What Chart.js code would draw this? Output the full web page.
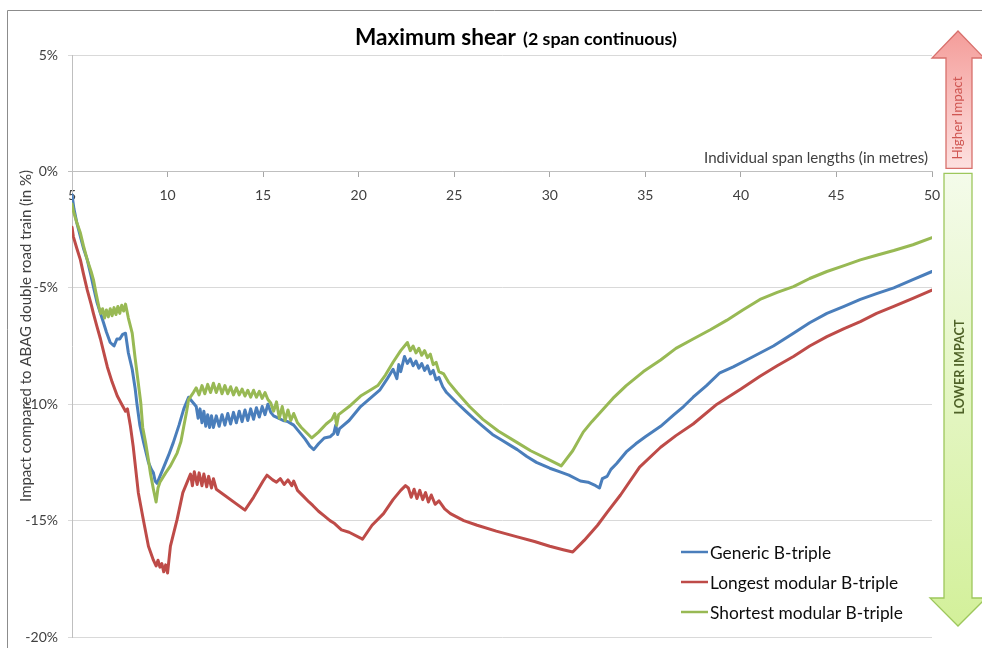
<!DOCTYPE html>
<html>
<head>
<meta charset="utf-8">
<script src="https://cdn.jsdelivr.net/npm/chart.js@4.4.0/dist/chart.umd.min.js"></script>
<style>
  html, body { margin: 0; padding: 0; background: #fff; overflow: hidden; }
  canvas { display: block; }
</style>
</head>
<body>
<canvas id="chart" width="982" height="648"></canvas>
<script>
// Span length (m) and impact (%) for each B-triple configuration
const genericX = [5.0,5.1,5.25,5.44,5.6,5.8,6.0,6.12,6.3,6.49,6.65,6.8,7.0,7.2,7.35,7.5,7.65,7.8,7.95,8.15,8.3,8.4,8.55,8.75,9.0,9.15,9.26,9.35,9.45,9.6,9.8,10.05,10.3,10.6,10.85,11.1,11.35,
  11.5,11.6,11.7,11.8,11.9,12.0,12.1,12.2,12.3,12.4,12.55,12.7,12.85,13.0,13.15,13.3,13.45,13.6,13.75,13.9,14.05,14.2,14.35,14.5,14.65,14.8,14.95,15.1,15.25,15.4,15.55,
  15.8,16.05,16.3,16.6,16.9,17.2,17.45,17.65,17.9,18.2,18.5,18.7,18.8,18.9,19.0,19.5,20.1,20.6,21.1,21.5,21.8,22.0,22.1,22.2,
  22.4,22.55,22.7,22.85,23.0,23.15,23.3,23.45,23.6,23.75,23.9,24.05,24.2,24.4,24.6,
  25.15,25.6,26.0,26.5,27.0,27.5,28.0,28.3,28.8,29.3,30.0,30.5,31.0,31.6,32.0,32.4,32.6,32.75,33.0,33.2,33.5,34.0,34.5,35.0,35.8,36.5,37.0,37.5,38.2,38.9,39.6,40.3,41.0,41.7,42.75,43.6,44.5,45.4,46.25,47.1,48.0,49.0,50.0];
const genericY = [-1.0,-1.6,-2.2,-2.8,-3.3,-3.8,-4.5,-4.95,-5.6,-6.1,-6.5,-6.9,-7.35,-7.5,-7.2,-7.2,-7.0,-6.95,-7.8,-8.5,-9.3,-10.0,-10.9,-11.65,-12.5,-12.8,-12.95,-13.3,-13.4,-13.1,-12.7,-12.2,-11.65,-10.9,-10.2,-9.7,-9.95,
  -10.1,-10.6,-10.2,-10.8,-10.3,-10.95,-10.45,-11.0,-10.5,-11.0,-10.5,-10.95,-10.45,-10.9,-10.4,-10.85,-10.35,-10.8,-10.3,-10.75,-10.25,-10.7,-10.2,-10.65,-10.15,-10.55,-10.1,-10.45,-10.0,-10.35,-10.5,
  -10.6,-10.7,-10.75,-10.9,-11.2,-11.5,-11.8,-11.95,-11.7,-11.45,-11.4,-11.25,-10.9,-11.3,-11.05,-10.7,-10.1,-9.75,-9.4,-8.9,-8.5,-8.9,-8.3,-8.6,
  -7.95,-8.25,-8.05,-8.35,-8.15,-8.45,-8.25,-8.55,-8.35,-8.7,-8.55,-8.95,-8.85,-9.25,-9.5,
  -9.95,-10.3,-10.6,-10.95,-11.3,-11.55,-11.8,-11.95,-12.25,-12.5,-12.75,-12.9,-13.05,-13.3,-13.35,-13.5,-13.6,-13.2,-13.1,-12.8,-12.55,-12.05,-11.7,-11.4,-10.95,-10.45,-10.1,-9.7,-9.2,-8.65,-8.4,-8.1,-7.8,-7.5,-6.95,-6.5,-6.1,-5.8,-5.5,-5.25,-5.0,-4.65,-4.3];

const longestX = [5.0,5.07,5.25,5.44,5.6,5.8,6.0,6.12,6.3,6.49,
  6.7,6.85,7.1,7.37,7.6,7.8,7.9,8.05,8.2,8.47,
  8.73,9.0,9.26,9.4,9.5,9.6,9.7,9.8,9.9,10.0,
  10.15,10.5,10.8,11.0,11.2,11.3,11.4,11.55,11.65,11.8,
  11.9,12.05,12.15,12.3,12.4,12.55,14.05,14.5,15.0,15.2,
  15.5,15.7,15.9,16.1,16.3,16.5,16.6,16.8,17.1,17.4,
  17.6,17.9,18.2,18.5,18.7,18.9,19.1,19.5,20.1,20.2,
  20.7,21.3,21.8,22.2,22.45,22.6,22.75,22.9,23.05,23.2,
  23.35,23.5,23.65,23.8,24.0,24.2,24.5,24.8,25.5,26.2,
  27.2,28.3,29.2,30.0,30.7,31.2,31.8,32.5,33.0,33.7,
  34.7,35.8,36.6,37.5,38.75,40.0,41.0,41.9,42.75,43.6,
  44.5,45.4,46.25,47.1,48.0,49.0,50.0];
const longestY = [-2.4,-2.8,-3.3,-3.8,-4.4,-5.1,-5.7,-6.1,-6.65,-7.2,
  -7.9,-8.4,-9.05,-9.65,-10.0,-10.3,-10.2,-10.9,-11.8,-13.8,
  -14.95,-16.1,-16.7,-16.95,-16.7,-17.0,-16.85,-17.2,-16.9,-17.25,
  -16.1,-14.95,-13.8,-13.4,-13.0,-13.5,-12.9,-13.45,-12.95,-13.5,
  -13.0,-13.55,-13.1,-13.6,-13.2,-13.65,-14.55,-14.0,-13.3,-13.05,
  -13.25,-13.35,-13.2,-13.45,-13.25,-13.5,-13.3,-13.7,-13.95,-14.2,
  -14.35,-14.6,-14.8,-15.0,-15.1,-15.25,-15.4,-15.5,-15.75,-15.8,
  -15.2,-14.7,-14.1,-13.7,-13.5,-13.6,-14.0,-13.65,-14.05,-13.7,
  -14.1,-13.8,-14.2,-13.9,-14.3,-14.15,-14.5,-14.7,-15.0,-15.2,
  -15.45,-15.7,-15.9,-16.1,-16.25,-16.35,-15.85,-15.2,-14.65,-13.9,
  -12.7,-11.85,-11.35,-10.85,-10.0,-9.35,-8.8,-8.35,-7.95,-7.5,
  -7.1,-6.75,-6.45,-6.1,-5.8,-5.45,-5.1];

const shortestX = [5.0,5.07,5.25,5.44,5.6,5.8,6.0,6.12,6.25,6.4,6.5,6.6,6.7,6.8,6.9,7.0,7.1,7.2,7.3,7.4,7.5,7.6,7.7,7.8,7.95,8.15,8.3,8.4,8.6,8.7,8.85,9.0,9.1,9.26,9.4,9.5,9.6,9.9,10.15,10.5,10.7,10.85,11.0,11.1,11.35,
  11.5,11.65,11.8,11.95,12.1,12.25,12.4,12.55,12.7,12.85,13.0,13.15,13.3,13.45,13.6,13.75,13.9,14.05,14.2,14.35,14.5,14.65,14.8,14.95,15.1,15.25,15.4,15.55,15.7,15.85,16.0,16.15,16.3,16.45,16.6,16.8,17.0,17.3,17.55,17.9,18.3,18.6,18.75,18.85,18.95,19.5,20.1,20.6,21.0,21.4,21.8,22.2,
  22.55,22.7,22.85,23.0,23.15,23.3,23.45,23.6,23.75,23.9,24.05,24.2,24.45,24.7,
  25.15,25.8,26.5,27.3,28.3,29.0,30.0,30.6,31.2,31.75,32.2,32.65,33.3,34.0,34.9,35.8,36.6,37.5,38.4,39.25,40.1,41.0,41.9,42.75,43.6,44.5,45.4,46.25,47.1,48.0,49.0,50.0];
const shortestY = [-1.4,-1.7,-2.2,-2.65,-3.2,-3.8,-4.3,-4.65,-5.2,-5.8,-6.1,-5.9,-6.3,-5.95,-6.25,-5.9,-6.2,-5.85,-6.15,-5.8,-6.1,-5.75,-6.0,-5.7,-6.3,-6.95,-8.0,-8.65,-9.95,-11.0,-11.65,-12.4,-12.95,-13.65,-14.2,-13.6,-13.35,-12.95,-12.65,-12.1,-11.6,-10.95,-10.3,-9.8,-9.5,
  -9.3,-9.6,-9.2,-9.55,-9.15,-9.5,-9.1,-9.5,-9.15,-9.55,-9.2,-9.55,-9.25,-9.6,-9.3,-9.6,-9.35,-9.65,-9.4,-9.7,-9.4,-9.7,-9.45,-9.75,-9.5,-9.8,-9.95,-10.3,-9.9,-10.6,-10.1,-10.7,-10.25,-10.7,-10.4,-10.8,-11.0,-11.25,-11.45,-11.2,-10.85,-10.65,-10.4,-10.9,-10.45,-10.1,-9.65,-9.4,-9.2,-8.75,-8.2,-7.7,
  -7.35,-7.7,-7.5,-7.8,-7.6,-7.9,-7.7,-8.0,-7.85,-8.3,-8.2,-8.6,-8.7,-9.05,
  -9.5,-10.1,-10.65,-11.15,-11.65,-12.0,-12.4,-12.65,-12.0,-11.2,-10.75,-10.35,-9.75,-9.2,-8.6,-8.1,-7.6,-7.2,-6.8,-6.4,-5.95,-5.5,-5.2,-4.95,-4.6,-4.3,-4.05,-3.8,-3.6,-3.4,-3.15,-2.85];

const seriesNames = ['Generic B-triple', 'Longest modular B-triple', 'Shortest modular B-triple'];
const yTicks = [-20, -15, -10, -5, 0, 5];
const xTicks = [5, 10, 15, 20, 25, 30, 35, 40, 45, 50];

const FONT = 'Lato';
const toPoints = (xs, ys) => xs.map((x, i) => ({ x, y: ys[i] }));

// Size a font so that a string spans the given width
function fitSize(ctx, text, width, weight) {
  ctx.font = `${weight} 100px ${FONT}`;
  return 100 * width / ctx.measureText(text).width;
}

const decorations = {
  id: 'decorations',
  beforeDraw(chart) {
    const c = chart.ctx;
    c.save();
    c.fillStyle = '#ffffff';
    c.fillRect(0, 0, chart.width, chart.height);
    c.strokeStyle = '#8c8c8c';
    c.lineWidth = 1;
    c.beginPath();
    c.moveTo(7.5, chart.height);
    c.lineTo(7.5, 10.5);
    c.lineTo(chart.width, 10.5);
    c.stroke();
    c.restore();
  },
  afterDraw(chart) {
    const c = chart.ctx;
    const area = chart.chartArea;
    const y0 = chart.scales.y.getPixelForValue(0);
    c.save();

    // Title: main part plus smaller qualifier on one baseline
    const t1 = 'Maximum shear', t2 = '(2 span continuous)';
    const s1 = fitSize(c, t1, 161, 'bold');
    const s2 = fitSize(c, t2, 154, 'bold');
    c.fillStyle = '#000000';
    c.textBaseline = 'alphabetic';
    c.textAlign = 'left';
    c.font = `bold ${s1}px ${FONT}`;
    c.fillText(t1, 355, 45);
    c.font = `bold ${s2}px ${FONT}`;
    c.fillText(t2, 523, 45);

    // Axis titles
    const xt = 'Individual span lengths (in metres)';
    c.fillStyle = '#404040';
    c.font = `${fitSize(c, xt, 224, 'normal')}px ${FONT}`;
    c.textAlign = 'right';
    c.fillText(xt, area.right - 4, y0 - 8);

    const yt = 'Impact compared to ABAG double road train (in %)';
    c.save();
    c.translate(26, 336);
    c.rotate(-Math.PI / 2);
    c.font = `${fitSize(c, yt, 332, 'normal')}px ${FONT}`;
    c.textAlign = 'center';
    c.textBaseline = 'middle';
    c.fillText(yt, 0, 0);
    c.restore();

    // Legend built from the datasets
    const ls = fitSize(c, seriesNames[2], 193, 'normal');
    chart.data.datasets.forEach((ds, i) => {
      const ly = 552 + i * 30;
      c.strokeStyle = ds.borderColor;
      c.lineWidth = 2.5;
      c.beginPath();
      c.moveTo(681, ly);
      c.lineTo(708, ly);
      c.stroke();
      c.fillStyle = '#0d0d0d';
      c.font = `${ls}px ${FONT}`;
      c.textAlign = 'left';
      c.textBaseline = 'middle';
      c.fillText(ds.label, 710, ly + 1);
    });

    // Impact arrows beside the plot
    const cx = area.right + 26;
    // up arrow: higher impact
    let g = c.createLinearGradient(0, 31, 0, y0);
    g.addColorStop(0, '#f49d9a');
    g.addColorStop(1, '#fde2e1');
    c.beginPath();
    c.moveTo(cx, 31);
    c.lineTo(cx + 26, 58);
    c.lineTo(cx + 14, 58);
    c.lineTo(cx + 14, y0 - 3);
    c.lineTo(cx - 12, y0 - 3);
    c.lineTo(cx - 12, 58);
    c.lineTo(cx - 26, 58);
    c.closePath();
    c.fillStyle = g;
    c.fill();
    c.strokeStyle = '#d8706c';
    c.lineWidth = 1.3;
    c.stroke();

    // down arrow: lower impact
    g = c.createLinearGradient(0, y0 + 2, 0, 626);
    g.addColorStop(0, '#f4fbea');
    g.addColorStop(1, '#d3f09a');
    c.beginPath();
    c.moveTo(cx - 14, y0 + 2);
    c.lineTo(cx + 14, y0 + 2);
    c.lineTo(cx + 14, 598);
    c.lineTo(cx + 28, 598);
    c.lineTo(cx, 626);
    c.lineTo(cx - 28, 598);
    c.lineTo(cx - 14, 598);
    c.closePath();
    c.fillStyle = g;
    c.fill();
    c.strokeStyle = '#9dc75c';
    c.lineWidth = 1.3;
    c.stroke();

    c.save();
    c.translate(cx, 118);
    c.rotate(-Math.PI / 2);
    c.textAlign = 'center';
    c.textBaseline = 'middle';
    c.fillStyle = '#cf5652';
    c.font = `${fitSize(c, 'Higher Impact', 83, 'normal')}px ${FONT}`;
    c.fillText('Higher Impact', 0, 0);
    c.restore();

    c.save();
    c.translate(cx + 2, 367);
    c.rotate(-Math.PI / 2);
    c.textAlign = 'center';
    c.textBaseline = 'middle';
    c.fillStyle = '#4f6228';
    c.font = `bold ${fitSize(c, 'LOWER IMPACT', 95, 'bold')}px ${FONT}`;
    c.fillText('LOWER IMPACT', 0, 0);
    c.restore();

    c.restore();
  }
};

const lineStyle = { showLine: true, pointRadius: 0, borderWidth: 3, borderJoinStyle: 'round', borderCapStyle: 'round', tension: 0, fill: false };

new Chart(document.getElementById('chart'), {
  type: 'scatter',
  data: {
    datasets: [
      { label: seriesNames[0], data: toPoints(genericX, genericY), borderColor: '#4a7ebb', backgroundColor: '#4a7ebb', order: 2, ...lineStyle },
      { label: seriesNames[1], data: toPoints(longestX, longestY), borderColor: '#be4b48', backgroundColor: '#be4b48', order: 1, ...lineStyle },
      { label: seriesNames[2], data: toPoints(shortestX, shortestY), borderColor: '#98b954', backgroundColor: '#98b954', order: 0, ...lineStyle }
    ]
  },
  options: {
    responsive: false,
    animation: false,
    layout: { padding: { left: 0, right: 50, top: 55, bottom: 11 } },
    plugins: { legend: { display: false }, tooltip: { enabled: false }, title: { display: false } },
    scales: {
      x: {
        type: 'linear',
        position: { y: 0 },
        min: 5, max: 50,
        afterBuildTicks: (s) => { s.ticks = xTicks.map(v => ({ value: v })); },
        grid: { drawOnChartArea: false, drawTicks: true, tickLength: 5, color: '#a6a6a6' },
        border: { display: true, color: '#bfbfbf' },
        ticks: { color: '#404040', font: { family: FONT, size: 14 }, padding: 11, maxRotation: 0 }
      },
      y: {
        min: -20, max: 5,
        afterBuildTicks: (s) => { s.ticks = yTicks.map(v => ({ value: v })); },
        afterFit: (s) => { s.width = 72; s.paddingTop = 0; s.paddingBottom = 0; },
        grid: { color: (ctx) => ctx.tick && ctx.tick.value === 0 ? '#bfbfbf' : '#d9d9d9', tickLength: 4 },
        border: { display: true, color: '#bfbfbf' },
        ticks: { color: '#404040', font: { family: FONT, size: 14 }, padding: 10, callback: (v) => v + '%' }
      }
    }
  },
  plugins: [decorations]
});
</script>
</body>
</html>
